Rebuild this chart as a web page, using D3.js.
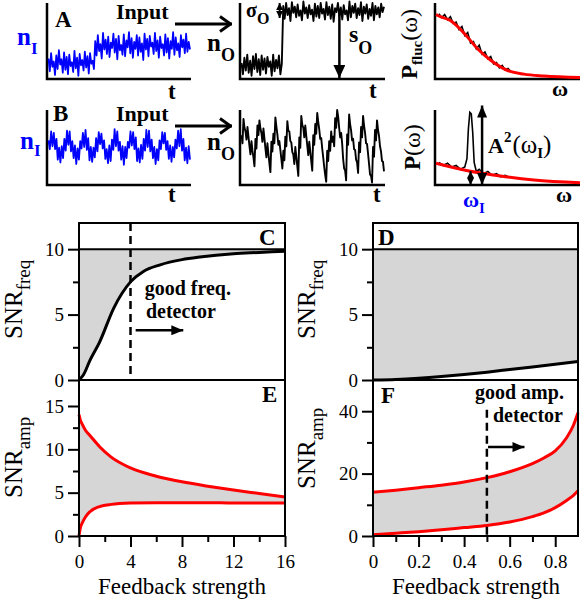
<!DOCTYPE html>
<html>
<head>
<script src="https://cdn.jsdelivr.net/npm/d3@7"></script>
<style>
  body { margin: 0; background: #fff; }
  svg, svg text, svg tspan { font-family: "Liberation Serif", "DejaVu Serif", serif; }
</style>
</head>
<body>
<div id="fig"></div>
<script>
// ---- traces (A, B), values in % of panel height ----
const blueA = [26,9,33,15,22,4,30,12,37,18,25,7,34,11,28,5,31,16,21,8,36,13,27,3,32,17,24,10,35,14,29,6,33,19,23,12,
  49,30,57,36,45,26,60,38,51,32,55,28,47,40,59,34,52,25,56,37,44,31,58,29,50,41,61,33,53,27,
  48,39,57,30,54,35,46,24,59,38,52,29,56,42,47,32,60,36,50,27,55,40,45,30,58,34,53,26,49,39,
  61,31,54,37,46,28,57,41,51,33,59,35,48,38];
const blueB = [59,47,71,51,69,47,61,33,49,29,51,35, 61,45,72,53,71,44,58,35,52,27,48,33,
  58,48,69,50,73,46,62,32,50,30,49,36, 62,44,70,54,68,48,59,34,47,28,52,31,
  60,46,74,51,71,45,57,33,51,26,50,35, 57,49,71,52,70,47,63,31,48,29,53,34,
  61,45,73,50,72,44,60,35,50,27,47,32, 59,47,70,55,69,46,58,34,52,30,50,36,
  60,48,72,51,74,45,61,32,49,28,51,33];
const blackA = [20,5,27,10,31,7,23,3,29,12,32,8,25,4,30,11,26,6,28,15,22,3,31,9,24,13,30,5,19,
  96,79,100,84,93,76,101,87,95,81,98,83,90,77,102,86,94,80,97,85,91,76,99,82,96,80,100,86,92,78,
  101,84,95,79,98,75,93,88,100,83,94,78,97,85,90,77,102,81,96,87,99,80,93,84,101,76,95,86,98,79,
  92,83,100,77,96,85,94,81,99,88,95];
const blackB = [66,55,88,76,71,60,77,64,51,40,58,45,36,24,61,48,79,66,86,75,69,57,75,62,48,36,55,41,
  28,16,57,44,68,55,90,78,67,53,58,46,34,21,45,32,64,51,85,72,71,58,56,43,40,27,50,37,24,11,63,49,
  92,80,76,63,79,65,52,39,57,44,31,18,66,53,81,68,96,84,74,61,62,48,36,23,12,3,45,31,58,45,71,57,
  64,51,89,76,100,91,76,63,69,55,34,21,18,5,67,53,94,81,72,59,61,47,46,33,29,15,56,43,77,63,92,79,
  69,55,54,41,27,13,11,2,50,37,73,59,86,73,65,51,44,31,30,17];

// ---- spectra ----
const flucW = [0, 0.2, 1, 2, 2.9, 3.8, 4.9, 6.1, 7.5, 10];
const flucFit = [0.86, 0.84, 0.78, 0.60, 0.40, 0.25, 0.12, 0.065, 0.04, 0.02];
const flucNoiseW = [0.2,0.4,0.6,0.8,1.0,1.2,1.4,1.6,1.8,2.0,2.2,2.4,2.6,2.8,3.0,3.2,3.4,3.6,3.8,4.0,4.2,4.4,4.6,4.8,5.0,5.2];
const flucNoise = [0.87,0.82,0.86,0.79,0.83,0.74,0.76,0.66,0.70,0.58,0.62,0.48,0.50,0.40,0.45,0.33,0.36,0.27,0.30,0.20,0.22,0.15,0.18,0.12,0.14,0.10];
const powW = [0, 2.2, 4.5, 6.8, 10];
const powFit = [0.29, 0.19, 0.12, 0.067, 0.03];
const powNoiseW = [0.2,0.5,0.8,1.1,1.4,1.7,2.0,2.15,2.25,2.35,2.45,2.55,2.65,2.8,3.0,3.3,3.6,3.9,4.2,4.5,4.8,5.1];
const powNoise = [0.30,0.26,0.29,0.24,0.26,0.21,0.24,0.35,0.75,0.97,0.95,0.70,0.30,0.18,0.21,0.15,0.18,0.13,0.15,0.11,0.13,0.10];
const omegaI = 2.4, omegaA = 3.2;

// ---- SNR curves ----
const fbC = [0, 0.35, 0.85, 1.6, 2.7, 4, 5, 6.3, 8, 9.4, 12, 14, 16];
const snrFreqC = [0, 0.4, 1.5, 2.9, 5.5, 7.5, 8.3, 8.8, 9.2, 9.4, 9.65, 9.75, 9.85];
const fbD = [0, 0.1, 0.2, 0.3, 0.4, 0.5, 0.6, 0.7, 0.8, 0.9];
const snrFreqD = [0, 0.04, 0.13, 0.26, 0.42, 0.6, 0.8, 1.0, 1.2, 1.42];
const snrFreqMax = 10;
const fbE = [0, 0.1, 0.25, 0.5, 0.85, 1.6, 2.5, 4, 6, 8, 10, 12, 14, 16];
const ampUpperE = [14, 13.4, 12.9, 12.2, 11.6, 10.3, 9.1, 7.85, 6.9, 6.25, 5.75, 5.3, 4.9, 4.5];
const ampLowerE = [0, 0.9, 1.5, 2.2, 2.8, 3.4, 3.65, 3.8, 3.85, 3.85, 3.85, 3.8, 3.8, 3.8];
const fbF = [0, 0.1, 0.2, 0.3, 0.4, 0.5, 0.6, 0.7, 0.75, 0.8, 0.85, 0.88, 0.9];
const ampUpperF = [14, 14.7, 15.5, 16.3, 17.3, 18.7, 20.6, 23.2, 25, 27.3, 31.5, 35.5, 39.5];
const ampLowerF = [0.4, 0.9, 1.4, 2.0, 2.7, 3.4, 4.5, 6.2, 7.4, 9.1, 11.4, 13, 14.5];
const freqThreshold = 4, ampThreshold = 0.5;

// ---- ticks ----
const ticksCy = [0, 5, 10], minorCy = [2.5, 7.5];
const ticksEy = [0, 5, 10, 15], minorEy = [2.5, 7.5, 12.5];
const ticksEx = [0, 4, 8, 12, 16], minorEx = [2, 6, 10, 14];
const ticksFy = [0, 20, 40], minorFy = [10, 30];
const ticksFx = [0, 0.2, 0.4, 0.6, 0.8], minorFx = [0.1, 0.3, 0.5, 0.7];

const serif = '"Liberation Serif", "DejaVu Serif", serif';
const RED = "#ff0000", BLUE = "#0000ff", GRAY = "#d6d6d6";

const svg = d3.select("#fig").append("svg").attr("width", 582).attr("height", 600)
    .attr("font-family", serif);
const defs = svg.append("defs");

function marker(id, w, h, d, filled) {
    const m = defs.append("marker").attr("id", id)
        .attr("viewBox", `0 0 ${w} ${h}`).attr("refX", w).attr("refY", h / 2)
        .attr("markerWidth", w).attr("markerHeight", h)
        .attr("markerUnits", "userSpaceOnUse").attr("orient", "auto-start-reverse");
    const p = m.append("path").attr("d", d);
    if (filled) p.attr("fill", "#000");
    else p.attr("fill", "none").attr("stroke", "#000").attr("stroke-width", 3);
}
marker("chev", 13, 18, "M1,1.5 L11.5,9 L1,16.5", false);
marker("tri", 12, 10, "M0,0 L12,5 L0,10 Z", true);
marker("tri2", 13, 12, "M0,0 L13,6 L0,12 Z", true);
marker("tris", 7, 7, "M0,0 L7,3.5 L0,7 Z", true);

function arrow(x1, y1, x2, y2, head, both, w) {
    const l = svg.append("line").attr("x1", x1).attr("y1", y1).attr("x2", x2).attr("y2", y2)
        .attr("stroke", "#000").attr("stroke-width", w || 2.5)
        .attr("marker-end", `url(#${head})`);
    if (both) l.attr("marker-start", `url(#${head})`);
}

// text with sub/superscript parts
function rich(x, y, parts, rotate, anchor) {
    const t = svg.append("text")
        .attr("transform", `translate(${x},${y})` + (rotate ? " rotate(-90)" : ""))
        .attr("text-anchor", anchor || "start")
        .style("font-family", serif);
    parts.forEach(p => {
        const s = t.append("tspan").text(p.t).attr("font-size", p.s)
            .attr("font-weight", p.b ? "bold" : "normal").attr("fill", p.c || "#000");
        if (p.dy) s.attr("dy", p.dy);
        if (p.dx) s.attr("dx", p.dx);
    });
    return t;
}

// ---------- top row: small panels ----------
const boxes = {
    A: {l: 47, r: 191, t: 3, b: 79},
    B: {l: 47, r: 191, t: 110, b: 185},
    AO: {l: 240, r: 385, t: 3, b: 79},
    BO: {l: 240, r: 385, t: 110, b: 185},
    AP: {l: 435, r: 580, t: 3, b: 79},
    BP: {l: 435, r: 580, t: 110, b: 185}
};
Object.values(boxes).forEach(bx => {
    svg.append("path").attr("d", `M${bx.l},${bx.t} V${bx.b} H${bx.r}`)
        .attr("fill", "none").attr("stroke", "#000").attr("stroke-width", 2.5);
});

function trace(bx, vals, color, w) {
    const x = d3.scaleLinear().domain([0, vals.length - 1]).range([bx.l + 1.5, bx.r - 1]);
    const y = d3.scaleLinear().domain([0, 100]).range([bx.b - 1, bx.t]);
    svg.append("path").datum(vals)
        .attr("d", d3.line().x((d, i) => x(i)).y(d => y(d)))
        .attr("fill", "none").attr("stroke", color).attr("stroke-width", w)
        .attr("stroke-linejoin", "round");
    return {x, y};
}
trace(boxes.A, blueA, BLUE, 1.8);
trace(boxes.B, blueB, BLUE, 1.8);
const tAO = trace(boxes.AO, blackA, "#000", 1.9);
trace(boxes.BO, blackB, "#000", 1.9);

function spectrum(bx, fw, fv, nw, nv) {
    const x = d3.scaleLinear().domain([0, 10]).range([bx.l + 1, bx.r]);
    const y = d3.scaleLinear().domain([0, 1]).range([bx.b, bx.b - 75]);
    svg.append("path").datum(d3.zip(nw, nv))
        .attr("d", d3.line().x(d => x(d[0])).y(d => y(d[1])))
        .attr("fill", "none").attr("stroke", "#000").attr("stroke-width", 1.6);
    svg.append("path").datum(d3.zip(fw, fv))
        .attr("d", d3.line().curve(d3.curveMonotoneX).x(d => x(d[0])).y(d => y(d[1])))
        .attr("fill", "none").attr("stroke", RED).attr("stroke-width", 3);
    return {x, y};
}
spectrum(boxes.AP, flucW, flucFit, flucNoiseW, flucNoise);
const sBP = spectrum(boxes.BP, powW, powFit, powNoiseW, powNoise);

// arrows in the top row
arrow(175, 24, 232, 24, "chev", false, 3);
arrow(175, 126, 232, 126, "chev", false, 3);
arrow(tAO.x(26.5), tAO.y(100), tAO.x(26.5), tAO.y(80), "tris", true, 2);
arrow(tAO.x(68), tAO.y(91), tAO.x(68), tAO.y(0), "tri2", false, 2.5);
arrow(sBP.x(omegaI), sBP.y(0.185), sBP.x(omegaI), sBP.y(0), "tris", true, 2);
arrow(sBP.x(omegaA), sBP.y(1.06), sBP.x(omegaA), sBP.y(0), "tri", true, 2.5);

// labels in the top row
rich(55, 27, [{t: "A", s: 23, b: 1}]);
rich(53, 121, [{t: "B", s: 23, b: 1}]);
rich(116, 19, [{t: "Input", s: 22, b: 1}]);
rich(116, 121, [{t: "Input", s: 22, b: 1}]);
rich(17, 45, [{t: "n", s: 25, b: 1, c: BLUE}, {t: "I", s: 17, b: 1, c: BLUE, dy: 9}]);
rich(20, 149, [{t: "n", s: 25, b: 1, c: BLUE}, {t: "I", s: 17, b: 1, c: BLUE, dy: 7}]);
rich(207, 51, [{t: "n", s: 25, b: 1}, {t: "O", s: 18, b: 1, dy: 10}]);
rich(207, 150, [{t: "n", s: 25, b: 1}, {t: "O", s: 18, b: 1, dy: 10}]);
rich(246, 17, [{t: "σ", s: 20, b: 1}, {t: "O", s: 16, b: 1, dy: 7}]);
rich(349, 42, [{t: "s", s: 24, b: 1}, {t: "O", s: 18, b: 1, dy: 12}]);
rich(168, 99, [{t: "t", s: 23, b: 1}]);
rich(168, 202, [{t: "t", s: 23, b: 1}]);
rich(369, 98, [{t: "t", s: 23, b: 1}]);
rich(373, 202, [{t: "t", s: 23, b: 1}]);
rich(552, 96, [{t: "ω", s: 22, b: 1}]);
rich(556, 202, [{t: "ω", s: 22, b: 1}]);
rich(463, 207, [{t: "ω", s: 22, b: 1, c: BLUE}, {t: "I", s: 15, b: 1, c: BLUE, dy: 6}]);
rich(417, 79, [{t: "P", s: 23, b: 1}, {t: "fluc", s: 15, b: 1, dy: 5}, {t: "(ω)", s: 24, dy: -5}], true);
rich(420, 170, [{t: "P", s: 23, b: 1}, {t: "(ω)", s: 24}], true);
rich(488, 153, [{t: "A", s: 22, b: 1}, {t: "2", s: 15, b: 1, dy: -11}, {t: "(ω", s: 25, dy: 11, dx: 1},
    {t: "I", s: 15, b: 1, dy: 5}, {t: ")", s: 25, dy: -5}]);

// ---------- bottom: SNR panels ----------
const xCE = d3.scaleLinear().domain([0, 16]).range([79, 285]);
const xDF = d3.scaleLinear().domain([0, 0.9]).range([373, 578]);
const yC = d3.scaleLinear().domain([0, 12]).range([380, 223]);
const yE = d3.scaleLinear().domain([0, 18]).range([536, 380]);
const yF = d3.scaleLinear().domain([0, 50]).range([536, 380]);

function band(x, y, xs, lo, hi) {
    svg.append("path").datum(d3.zip(xs, lo, hi))
        .attr("d", d3.area().curve(d3.curveMonotoneX).x(d => x(d[0])).y0(d => y(d[1])).y1(d => y(d[2])))
        .attr("fill", GRAY);
}
function curve(x, y, xs, vs, color) {
    svg.append("path").datum(d3.zip(xs, vs))
        .attr("d", d3.line().curve(d3.curveMonotoneX).x(d => x(d[0])).y(d => y(d[1])))
        .attr("fill", "none").attr("stroke", color).attr("stroke-width", 3);
}

band(xCE, yC, fbC, snrFreqC, fbC.map(() => snrFreqMax));
band(xDF, yC, fbD, snrFreqD, fbD.map(() => snrFreqMax));
band(xCE, yE, fbE, ampLowerE, ampUpperE);
band(xDF, yF, fbF, ampLowerF, ampUpperF);

curve(xCE, yC, fbC, snrFreqC, "#000");
curve(xDF, yC, fbD, snrFreqD, "#000");
curve(xCE, yE, fbE, ampUpperE, RED);
curve(xCE, yE, fbE, ampLowerE, RED);
curve(xDF, yF, fbF, ampUpperF, RED);
curve(xDF, yF, fbF, ampLowerF, RED);

// saturation line at SNR_freq = 10
[[xCE, 16], [xDF, 0.9]].forEach(([x, m]) => {
    svg.append("line").attr("x1", x(0)).attr("x2", x(m)).attr("y1", yC(snrFreqMax)).attr("y2", yC(snrFreqMax))
        .attr("stroke", "#000").attr("stroke-width", 2);
});

// frames
[[xCE, 16], [xDF, 0.9]].forEach(([x, m]) => {
    svg.append("rect").attr("x", x(0)).attr("y", yC(12)).attr("width", x(m) - x(0)).attr("height", yE(0) - yC(12))
        .attr("fill", "none").attr("stroke", "#000").attr("stroke-width", 2);
    svg.append("line").attr("x1", x(0)).attr("x2", x(m)).attr("y1", yC(0)).attr("y2", yC(0))
        .attr("stroke", "#000").attr("stroke-width", 2);
});

// threshold dashed lines
svg.append("line").attr("x1", xCE(freqThreshold)).attr("x2", xCE(freqThreshold))
    .attr("y1", yC(12)).attr("y2", yC(0))
    .attr("stroke", "#000").attr("stroke-width", 2.5).attr("stroke-dasharray", "8,5");
svg.append("line").attr("x1", xDF(ampThreshold)).attr("x2", xDF(ampThreshold))
    .attr("y1", yF(40.5)).attr("y2", yF(0))
    .attr("stroke", "#000").attr("stroke-width", 2.5).attr("stroke-dasharray", "8,5");

arrow(xCE(4.4), yC(3.8), xCE(8.1), yC(3.8), "tri", false, 2.5);
arrow(xDF(0.505), yF(28.5), xDF(0.665), yF(28.5), "tri", false, 2.5);

// axes
function yAxis(x0, y, major, minor) {
    const g = svg.append("g").attr("transform", `translate(${x0},0)`);
    g.call(d3.axisLeft(y).tickValues(major).tickSize(11).tickPadding(4).tickFormat(String));
    g.append("g").call(d3.axisLeft(y).tickValues(minor).tickSize(6).tickFormat(""));
    g.selectAll(".domain").remove();
    g.selectAll("line").attr("stroke-width", 2);
    g.attr("font-family", serif).attr("font-size", 19);
    g.selectAll("text").style("font-family", serif);
}
function xAxis(y0, x, major, minor) {
    const g = svg.append("g").attr("transform", `translate(0,${y0})`);
    g.call(d3.axisBottom(x).tickValues(major).tickSize(11).tickPadding(8).tickFormat(String));
    g.append("g").call(d3.axisBottom(x).tickValues(minor).tickSize(6).tickFormat(""));
    g.selectAll(".domain").remove();
    g.selectAll("line").attr("stroke-width", 2);
    g.attr("font-family", serif).attr("font-size", 19);
    g.selectAll("text").style("font-family", serif);
}
yAxis(xCE(0), yC, ticksCy, minorCy);
yAxis(xCE(0), yE, ticksEy, minorEy);
yAxis(xDF(0), yC, ticksCy, minorCy);
yAxis(xDF(0), yF, ticksFy, minorFy);
xAxis(yE(0), xCE, ticksEx, minorEx);
xAxis(yE(0), xDF, ticksFx, minorFx);

// panel letters and labels
rich(259, 245, [{t: "C", s: 23, b: 1}]);
rich(378, 245, [{t: "D", s: 23, b: 1}]);
rich(262, 402, [{t: "E", s: 23, b: 1}]);
rich(381, 403, [{t: "F", s: 23, b: 1}]);
rich(xCE(5.1), yC(6.5), [{t: "good freq.", s: 20, b: 1}]);
rich(xCE(5.2), yC(4.75), [{t: "detector", s: 20, b: 1}]);
rich(475, yF(43.9), [{t: "good amp.", s: 20, b: 1}]);
rich(493, yF(36.6), [{t: "detector", s: 20, b: 1}]);

rich(22, 339, [{t: "SNR", s: 25}, {t: "freq", s: 19, dy: 8}], true);
rich(22, 498, [{t: "SNR", s: 25}, {t: "amp", s: 19, dy: 8}], true);
rich(315, 339, [{t: "SNR", s: 25}, {t: "freq", s: 19, dy: 8}], true);
rich(315, 489, [{t: "SNR", s: 25}, {t: "amp", s: 19, dy: 8}], true);
rich(182, 594, [{t: "Feedback strength", s: 23}], false, "middle");
rich(476, 594, [{t: "Feedback strength", s: 23}], false, "middle");
</script>
</body>
</html>
